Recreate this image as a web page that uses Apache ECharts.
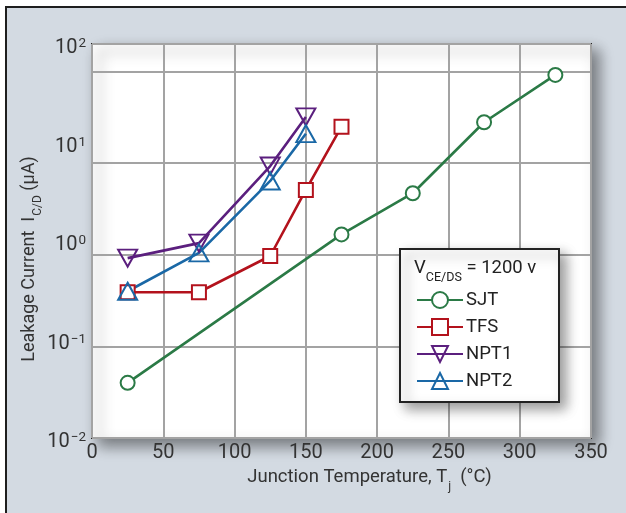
<!DOCTYPE html>
<html>
<head>
<meta charset="utf-8">
<script src="https://cdn.jsdelivr.net/npm/echarts@6/dist/echarts.min.js"></script>
<style>
  html, body { margin: 0; padding: 0; background: #fff; }
  #wrap { position: relative; width: 626px; height: 513px; overflow: hidden; }
  #frame { position: absolute; left: 5px; top: 6px; width: 640px; height: 520px;
           background: #d3dae2; border-left: 2px solid #1e1e1e; border-top: 2px solid #1e1e1e; }
  #chart { position: absolute; left: 0; top: 0; width: 626px; height: 513px; }
</style>
</head>
<body>
<div id="wrap">
  <div id="frame"></div>
  <div id="chart"></div>
</div>
<script>
var FONT = 'Roboto, "Liberation Sans", sans-serif';

// junction temperature (°C) and leakage current (µA) per device
var sjtTemp = [25, 175, 225, 275, 325];
var sjtLeak = [0.040, 1.67, 4.7, 28, 92];
var tfsTemp = [25, 75, 125, 150, 175];
var tfsLeak = [0.39, 0.39, 0.97, 5.1, 25];
var npt1Temp = [25, 75, 125, 150];
var npt1Leak = [0.92, 1.34, 9.3, 32];
var npt2Temp = [25, 75, 125, 150];
var npt2Leak = [0.40, 1.05, 6.4, 21];

var xTicks = [0, 50, 100, 150, 200, 250, 300, 350];
var yExponents = [-2, -1, 0, 1, 2];

function pairs(xs, ys) {
  return xs.map(function(x, i) { return [x, ys[i]]; });
}

var chart = echarts.init(document.getElementById('chart'));

function mkSeries(name, xs, ys, color, symbol, size, rotate, fill) {
  return {
    name: name,
    type: 'line',
    data: pairs(xs, ys),
    yAxisIndex: 0,
    symbol: symbol,
    symbolSize: size,
    symbolRotate: rotate,
    showAllSymbol: true,
    lineStyle: { color: color, width: 2.6 },
    itemStyle: { color: fill, borderColor: color, borderWidth: 2 },
    emphasis: { disabled: true },
    animation: false
  };
}

var subStyle = { fontSize: 12, color: '#333', fontFamily: FONT, verticalAlign: 'bottom', padding: [0, 0, -6, 1] };

var option = {
  animation: false,
  textStyle: { fontFamily: FONT },
  grid: {
    left: 92, right: 35, top: 44, bottom: 75,
    show: true,
    backgroundColor: '#fff',
    borderColor: '#262626',
    borderWidth: 2,
    shadowBlur: 14,
    shadowColor: 'rgba(0,0,0,0.45)',
    shadowOffsetX: 7,
    shadowOffsetY: 7
  },
  xAxis: {
    type: 'value',
    min: xTicks[0],
    max: xTicks[xTicks.length - 1],
    interval: 50,
    axisLine: { show: false },
    axisTick: { show: false },
    splitLine: { show: true, lineStyle: { color: '#a3a3a3', width: 2 } },
    axisLabel: { fontSize: 20, color: '#333', margin: 5, fontFamily: FONT },
    name: 'Junction Temperature, {n|T}{sub|j}  (°C)',
    nameLocation: 'middle',
    nameGap: 30,
    nameTextStyle: {
      fontSize: 18.5, color: '#333', fontFamily: FONT,
      padding: [0, 0, 0, 56],
      rich: {
        n: { fontSize: 18.5, color: '#333', fontFamily: FONT },
        sub: subStyle
      }
    }
  },
  yAxis: [
    {
      type: 'log',
      logBase: 10,
      min: 0.01,
      max: 200,
      axisLine: { show: false },
      axisTick: { show: false },
      axisLabel: { show: false },
      splitLine: { show: true, lineStyle: { color: '#a3a3a3', width: 2 } },
      name: 'Leakage Current  {n|I}{sub|C/D} (µA)',
      nameLocation: 'middle',
      nameGap: 54,
      nameTextStyle: {
        fontSize: 18, color: '#333', fontFamily: FONT,
        padding: [0, 36, 0, 0],
        rich: {
          n: { fontSize: 18, color: '#333', fontFamily: FONT },
          sub: subStyle
        }
      }
    },
    {
      type: 'log',
      logBase: 10,
      min: Math.pow(10, yExponents[0]),
      max: Math.pow(10, yExponents[yExponents.length - 1]),
      position: 'left',
      axisLine: { show: false },
      axisTick: { show: false },
      splitLine: { show: false },
      axisLabel: {
        margin: 6,
        formatter: function(v) {
          var e = Math.round(Math.log10(v));
          if (Math.abs(Math.log10(v) - e) > 0.01) return '';
          return '{b|10}{e|' + (e < 0 ? '\u2212' + (-e) : e) + '}';
        },
        rich: {
          b: { fontSize: 20, color: '#333', fontFamily: FONT, lineHeight: 22, padding: [8, 0, 0, 0] },
          e: { fontSize: 13.5, color: '#333', fontFamily: FONT, verticalAlign: 'top', lineHeight: 22, padding: [4, 0, 0, 1] }
        }
      }
    }
  ],
  legend: {
    orient: 'vertical',
    left: 411,
    top: 285,
    itemWidth: 46,
    itemHeight: 20,
    itemGap: 7,
    z: 20,
    data: ['SJT', 'TFS', 'NPT1', 'NPT2'],
    textStyle: { fontSize: 18.5, color: '#222', fontFamily: FONT, lineHeight: 20, padding: [0, 0, 0, -2] },
    selectedMode: false
  },
  graphic: [
    {
      type: 'rect',
      z: 10,
      shape: { x: 400, y: 249, width: 159, height: 153 },
      style: {
        fill: '#fff', stroke: '#222', lineWidth: 2,
        shadowBlur: 12, shadowColor: 'rgba(0,0,0,0.4)', shadowOffsetX: 6, shadowOffsetY: 6
      }
    },
    {
      type: 'text',
      z: 21,
      left: 414,
      top: 259,
      style: {
        text: '{n|V}{sub|CE/DS}{n| = 1200 v}',
        rich: {
          n: { fontSize: 18.5, fill: '#222', fontFamily: FONT },
          sub: { fontSize: 12.5, fill: '#222', fontFamily: FONT, verticalAlign: 'bottom', padding: [0, 0, -6, 0] }
        }
      }
    }
  ],
  series: [
    mkSeries('SJT', sjtTemp, sjtLeak, '#2b7a46', 'circle', 14, 0, '#fff'),
    mkSeries('TFS', tfsTemp, tfsLeak, '#b3121c', 'rect', 14, 0, '#fff'),
    mkSeries('NPT1', npt1Temp, npt1Leak, '#5b1f7e', 'triangle', [19, 17], 180, 'rgba(255,255,255,0)'),
    mkSeries('NPT2', npt2Temp, npt2Leak, '#1a68a6', 'triangle', [19, 17], 0, 'rgba(255,255,255,0)')
  ]
};

chart.setOption(option);
</script>
</body>
</html>
